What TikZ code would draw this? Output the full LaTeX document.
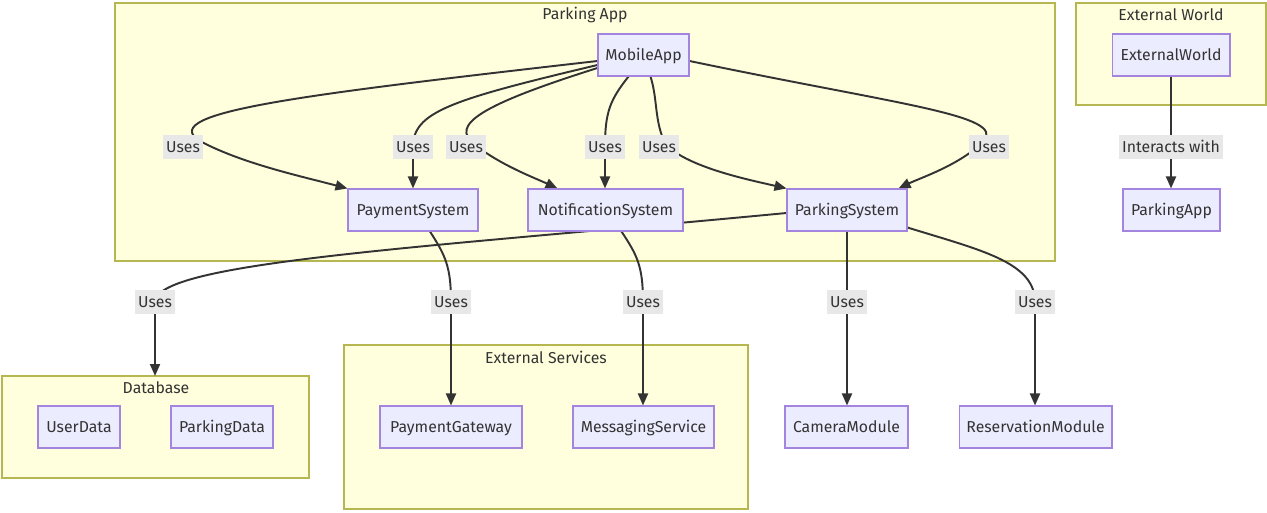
\documentclass[tikz,border=0pt]{standalone}
\usepackage{fontspec}
\setmainfont{Fira Sans}
\usetikzlibrary{arrows.meta,calc}
\definecolor{clusterfill}{HTML}{FFFFDE}
\definecolor{clusterline}{HTML}{AAAA33}
\definecolor{nodefill}{HTML}{ECECFF}
\definecolor{nodeline}{HTML}{9370DB}
\definecolor{ink}{HTML}{333333}
\definecolor{labelbg}{HTML}{E8E8E8}
\pgfdeclarelayer{bg}
\pgfdeclarelayer{edgelayer}
\pgfsetlayers{bg,edgelayer,main}

\begin{document}
\begin{tikzpicture}[x=0.02cm, y=-0.02cm, font=\fontsize{9}{11}\selectfont,
  cluster/.style={draw=clusterline!85, fill=clusterfill, line width=0.6pt},
  ctitle/.style={text=ink, inner sep=0pt, anchor=center},
  box/.style={draw=nodeline!85, fill=nodefill, text=ink, line width=0.6pt,
              minimum height=0.84cm, inner sep=0pt, text height=1.6ex, text depth=0.45ex},
  lbl/.style={fill=labelbg, text=ink, inner sep=1.5pt, minimum height=0.44cm,
              text height=1.6ex, text depth=0.45ex},
  link/.style={draw=ink, line width=1.1pt, -{Triangle[length=0.24cm,width=0.2cm]}}]

\useasboundingbox (0,0) rectangle (1267,513);

% subgraph frames
\begin{pgfonlayer}{bg}
  \filldraw[cluster] (115,3) rectangle (1055,261);
  \filldraw[cluster] (1076,3) rectangle (1266,105);
  \filldraw[cluster] (2,376) rectangle (309,478);
  \filldraw[cluster] (344,345) rectangle (748,509);
\end{pgfonlayer}

\node[ctitle] (tApp)   at (585,15)  {Parking App};
\node[ctitle] (tWorld) at (1171,15) {External World};
\node[ctitle] (tDB)    at (156,388) {Database};
\node[ctitle] (tExt)   at (546,357) {External Services};

% components
\node[box, minimum width=1.82cm] (MobileApp)    at (643.5,55) {MobileApp};
\node[box, minimum width=2.60cm] (PaymentSystem) at (413,210) {PaymentSystem};
\node[box, minimum width=3.10cm] (NotificationSystem) at (605.5,210) {NotificationSystem};
\node[box, minimum width=2.40cm] (ParkingSystem) at (847,210) {ParkingSystem};
\node[box, minimum width=2.36cm] (ExternalWorld) at (1171,55) {ExternalWorld};
\node[box, minimum width=1.94cm] (ParkingApp)    at (1171.5,210) {ParkingApp};
\node[box, minimum width=1.64cm] (UserData)      at (79,427) {UserData};
\node[box, minimum width=2.04cm] (ParkingData)   at (222,427) {ParkingData};
\node[box, minimum width=2.84cm] (PaymentGateway) at (451,427) {PaymentGateway};
\node[box, minimum width=2.82cm] (MessagingService) at (643.5,427) {MessagingService};
\node[box, minimum width=2.46cm] (CameraModule)  at (846.5,427) {CameraModule};
\node[box, minimum width=3.06cm] (ReservationModule) at (1035.5,427) {ReservationModule};

\coordinate (dbTop) at (155,376);

% edge labels
\node[lbl] (u1)  at (183,147) {Uses};
\node[lbl] (u2)  at (413,147) {Uses};
\node[lbl] (u3)  at (466,147) {Uses};
\node[lbl] (u4)  at (605,147) {Uses};
\node[lbl] (u5)  at (659,147) {Uses};
\node[lbl] (u6)  at (989,147) {Uses};
\node[lbl] (u7)  at (155,302) {Uses};
\node[lbl] (u8)  at (451,302) {Uses};
\node[lbl] (u9)  at (643,302) {Uses};
\node[lbl] (u10) at (847,302) {Uses};
\node[lbl] (u11) at (1035,302) {Uses};
\node[lbl] (ui)  at (1171,147) {Interacts with};

% connectors
\begin{pgfonlayer}{edgelayer}
  \draw[link] ($(MobileApp.west)+(0,6)$) .. controls (300,95) and (160,112) .. (198,140)
              .. controls (240,163) and (300,176) .. (PaymentSystem.north west);
  \draw[link] ($(MobileApp.west)+(0,10)$) .. controls (450,100) and (413,112) .. (u2.center)
              -- (PaymentSystem.north);
  \draw[link] ($(MobileApp.west)+(0,13)$) .. controls (480,105) and (450,125) .. (474,144)
              .. controls (500,165) and (535,178) .. ($(NotificationSystem.north west)+(30,0)$);
  \draw[link] ($(MobileApp.south)+(-15,0)$) .. controls (610,100) and (605,112) .. (u4.center)
              -- ($(NotificationSystem.north)+(-0.5,0)$);
  \draw[link] ($(MobileApp.south)+(7,0)$) .. controls (658,100) and (654,122) .. (666,145)
              .. controls (690,168) and (750,180) .. (ParkingSystem.north west);
  \draw[link] ($(MobileApp.east)+(0,6)$) .. controls (900,105) and (1005,115) .. (984,141)
              .. controls (960,165) and (920,178) .. ($(ParkingSystem.north east)+(-9,0)$);
  \draw[link] ($(ParkingSystem.west)+(0,3)$) .. controls (420,248) and (156,262) .. (u7.center)
              -- (dbTop);
  \draw[link] ($(PaymentSystem.south)+(17,0)$) .. controls (445,255) and (451,266) .. (u8.center)
              -- (PaymentGateway.north);
  \draw[link] ($(NotificationSystem.south)+(16,0)$) .. controls (637,255) and (643,266) .. (u9.center)
              -- ($(MessagingService.north)+(-0.5,0)$);
  \draw[link] (ParkingSystem.south) -- (CameraModule.north -| ParkingSystem.south);
  \draw[link] ($(ParkingSystem.south east)+(0,-4)$) .. controls (980,250) and (1035,262) .. (u11.center)
              -- ($(ReservationModule.north)+(-0.5,0)$);
  \draw[link] (ExternalWorld.south) -- (ExternalWorld.south |- ParkingApp.north);
\end{pgfonlayer}

\end{tikzpicture}
\end{document}
